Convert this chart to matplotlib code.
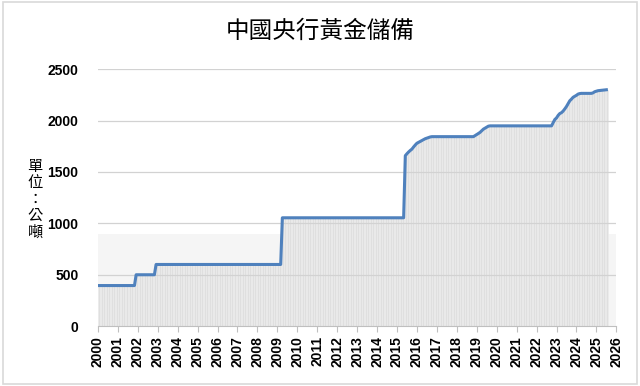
import matplotlib
matplotlib.use("Agg")
import matplotlib.pyplot as plt
from matplotlib.patches import Rectangle

plt.rcParams['font.family'] = ['Noto Sans CJK TC', 'DejaVu Sans']

## data: China central bank gold reserves, tonnes, monthly from Jan 2000
reserves = ([395.0] * 23 + [500.0] * 12 + [600.0] * 76 + [1054.0] * 74
            + [1658, 1677, 1694, 1709, 1722, 1743, 1762,
               1779, 1788, 1798, 1805, 1814, 1823, 1829, 1835, 1840, 1843]
            + [1843.0] * 25
            + [1853, 1864, 1874, 1885, 1900, 1916, 1926, 1936, 1945, 1948]
            + [1948.0] * 37
            + [1980, 2010, 2025, 2050, 2068, 2076, 2092, 2113, 2136, 2165,
               2192, 2208, 2226, 2235, 2245, 2257, 2262, 2264]
            + [2264.0] * 6
            + [2269, 2280, 2285, 2290, 2292, 2295, 2296, 2298, 2299])
start_year = 2000
years = list(range(2000, 2027))
yticks = [0, 500, 1000, 1500, 2000, 2500]
band_top = 900

title = "中國央行黃金儲備"
ylabel = "單\n位\n：\n公\n噸"

months = [start_year + i / 12 for i in range(len(reserves))]

fig = plt.figure(figsize=(6.4, 3.86), dpi=100)
ax = fig.add_axes([0.153, 0.155, 0.810, 0.666])

## light band in the background
ax.axhspan(0, band_top, color='#f5f5f5', zorder=0, lw=0)

## thin monthly bars under the line
ax.bar(months, reserves, width=1 / 12, align='edge', color='#dfdfdf',
       edgecolor='#ededed', linewidth=0.4, zorder=1)

for y in yticks[1:]:
    ax.axhline(y, color='#d2d2d2', lw=0.9, zorder=2)

ax.plot(months, reserves, color='#4f81bd', lw=2.2, zorder=3,
        solid_joinstyle='round')

ax.set_xlim(2000, 2026)
ax.set_ylim(0, 2500)
ax.set_xticks(years)
ax.set_xticklabels([str(y) for y in years], rotation=90,
                   fontfamily='Liberation Sans', fontweight='bold', fontsize=10)
ax.set_yticks(yticks)
ax.set_yticklabels([str(y) for y in yticks], fontfamily='Liberation Sans',
                   fontweight='bold', fontsize=10)
ax.tick_params(axis='y', length=0, pad=14)
ax.tick_params(axis='x', length=4, color='#bfbfbf', pad=3)
for s in ['left', 'right', 'top']:
    ax.spines[s].set_visible(False)
ax.spines['bottom'].set_color('#bfbfbf')
ax.spines['bottom'].set_zorder(4)

fig.text(0.5, 0.918, title, ha='center', va='center', fontsize=17)
fig.text(0.055, 0.484, ylabel, ha='center', va='center', fontsize=11,
         linespacing=0.95)

fig.patches.append(Rectangle((0.004, 0.006), 0.992, 0.988,
                             transform=fig.transFigure, fill=False,
                             edgecolor='#d9d9d9', lw=1.2))

fig.savefig("out.png", dpi=100)
